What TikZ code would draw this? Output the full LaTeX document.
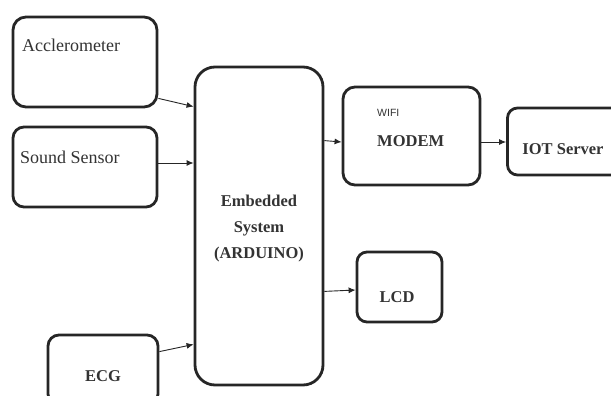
\documentclass[tikz,border=0pt]{standalone}
\usepackage{fontspec}
\setmainfont{Liberation Serif}
\newfontfamily\wifisans{Liberation Sans}
\usetikzlibrary{arrows.meta}
\definecolor{ink}{HTML}{262626}
\definecolor{txt}{HTML}{333333}
\tikzset{
  blk/.style={draw=ink, line width=2.8pt, rectangle, rounded corners=#1, inner sep=0pt},
  blk/.default=11pt,
  arr/.style={draw=ink, line width=0.9pt, -{Latex[length=7pt,width=6pt]}},
  lbl/.style={text=txt, inner sep=0pt, font=\fontsize{18}{20}\selectfont},
  blbl/.style={text=txt, inner sep=0pt, font=\fontsize{16.5}{26}\selectfont\bfseries, align=center},
}
\begin{document}
\begin{tikzpicture}[x=1pt,y=-1pt]
\useasboundingbox (0,0) rectangle (611,396);
\clip (0,0) rectangle (611,396);
\fill[white] (0,0) rectangle (611,396);
% boxes
\node[blk=13pt, minimum width=144pt, minimum height=90pt] (acc) at (85,62) {};
\node[blk, minimum width=144pt, minimum height=80pt] (sound) at (85,167) {};
\node[blk, minimum width=110pt, minimum height=70pt] (ecg) at (103,370) {};
\node[blk=20pt, minimum width=128pt, minimum height=318pt] (emb) at (259,226) {};
\node[blk=12pt, minimum width=137pt, minimum height=98pt] (modem) at (411.5,136) {};
\node[blk=10pt, minimum width=117pt, minimum height=67pt] (iot) at (566,141.5) {};
\node[blk=10pt, minimum width=85pt, minimum height=70pt] (lcd) at (399.5,287) {};
% labels
\node[lbl, anchor=west] (acct) at (22,45) {Acclerometer};
\node[lbl, anchor=west] (soundt) at (20,157) {Sound Sensor};
\node[blbl] (embt) at (259,229) {Embedded\\System\\(ARDUINO)};
\node[text=txt, inner sep=0pt, font=\wifisans\fontsize{10.5}{12}\selectfont, anchor=west] (wifit) at (377,113) {WIFI};
\node[blbl, anchor=west] (modemt) at (377,141) {MODEM};
\node[blbl] (iott) at (563,149) {IOT Server};
\node[blbl] (lcdt) at (397,297) {LCD};
\node[blbl] (ecgt) at (103,376) {ECG};
% connectors
\draw[arr] ([yshift=10pt]acc.south east) -- ([yshift=-41pt]emb.north west);
\draw[arr] ([yshift=4pt]sound.east) -- ([yshift=63pt]emb.west);
\draw[arr] ([yshift=-18pt]ecg.north east) -- ([yshift=42pt]emb.south west);
\draw[arr] ([yshift=-75pt]emb.north east) -- ([yshift=-6pt]modem.west);
\draw[arr] ([yshift=-6pt]modem.east) -- ([yshift=-0.5pt]iot.west);
\draw[arr] ([yshift=95pt]emb.south east) -- ([yshift=-3pt]lcd.west);
\end{tikzpicture}
\end{document}
